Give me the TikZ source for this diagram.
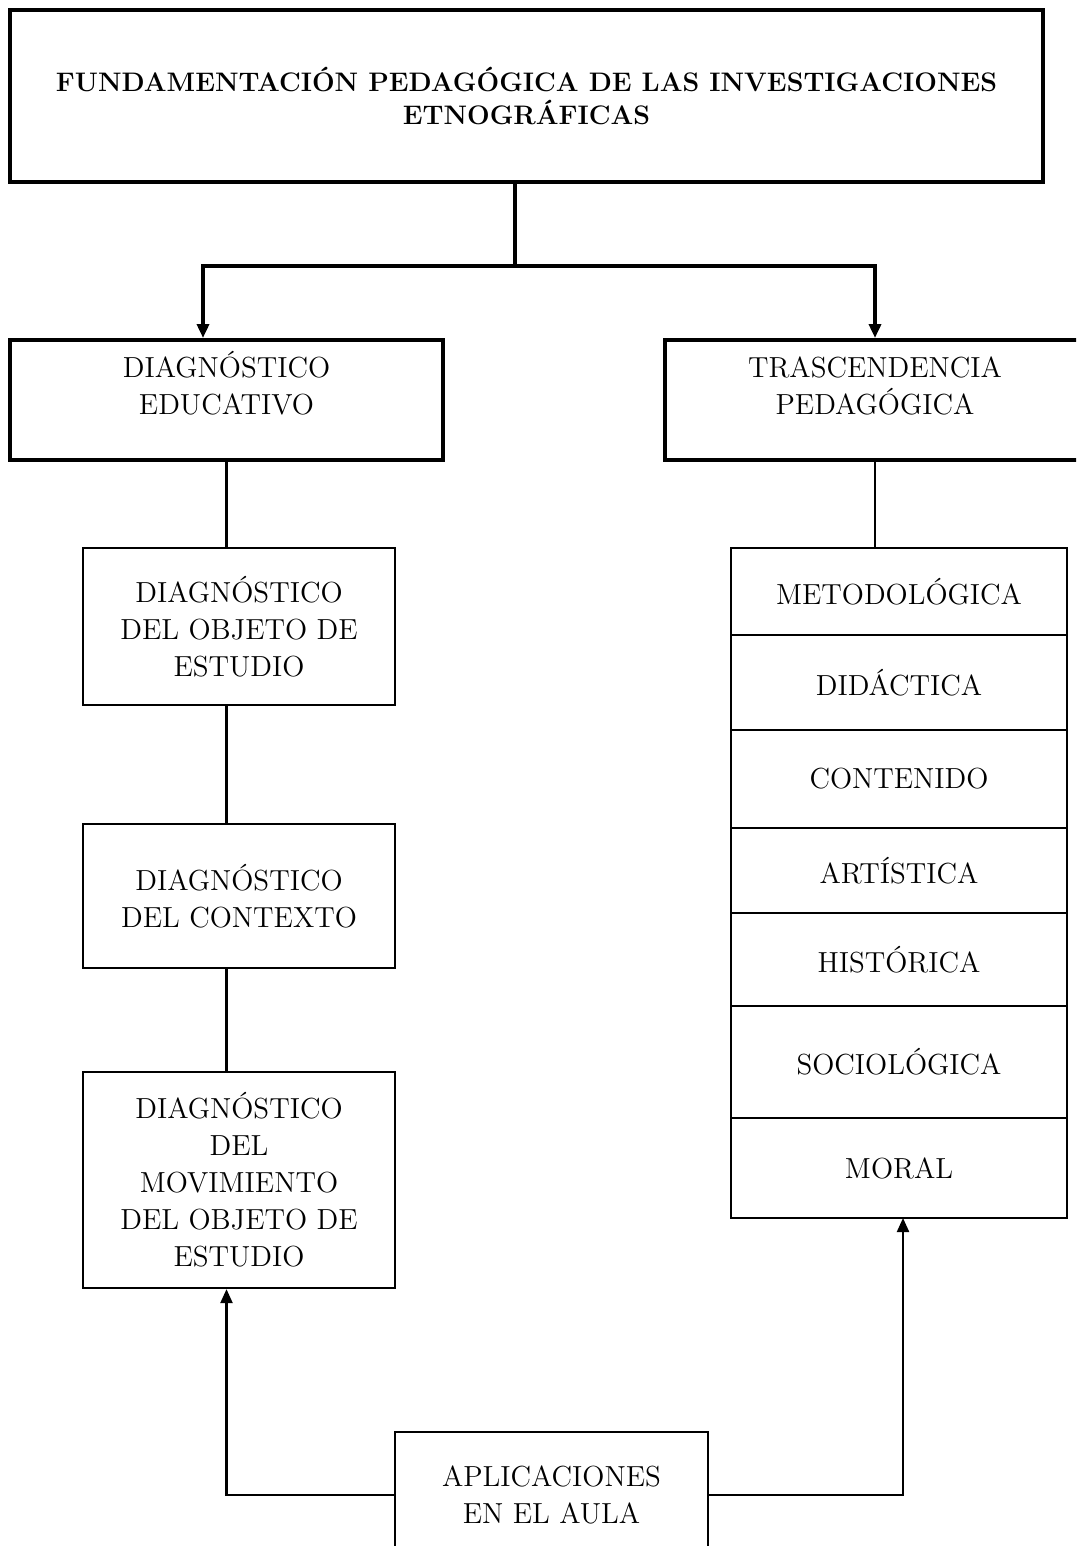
\documentclass[tikz,border=0pt]{standalone}
\usetikzlibrary{positioning,arrows.meta}
\begin{document}
	\begin{tikzpicture}
		[x=0.5pt, y=-0.5pt,
		caja/.style={draw, line width=1.1pt, align=center, inner sep=2pt,
			font=\fontsize{14.5}{18.5}\selectfont},
		cajagruesa/.style={caja, line width=2pt},
		fila/.style={caja, outer sep=0pt, minimum width=168pt},
		flecha/.style={line width=1.1pt, -{Triangle[length=7pt,width=6pt]}},
		flechagruesa/.style={line width=2pt, -{Triangle[length=7pt,width=6pt]}}
		]
		\useasboundingbox (0,0) rectangle (1076,1546);
		\clip (0,0) rectangle (1076,1546);
		
		\node[cajagruesa, minimum width=516.5pt, minimum height=86pt,
			font=\fontsize{13.4}{16.5}\selectfont\bfseries] (fund) at (526.5,96)
			{FUNDAMENTACIÓN PEDAGÓGICA DE LAS INVESTIGACIONES\\ETNOGRÁFICAS};
		
		% lado izquierdo
		\node[cajagruesa, minimum width=216.5pt, minimum height=60pt, text depth=17pt]
			(educ) at (226.5,400) {DIAGNÓSTICO\\EDUCATIVO};
		\node[caja, minimum width=156pt, minimum height=78.5pt] (objeto) at (239,626.5)
			{DIAGNÓSTICO\\DEL OBJETO DE\\ESTUDIO};
		\node[caja, minimum width=156pt, minimum height=72pt] (contexto) at (239,896)
			{DIAGNÓSTICO\\DEL CONTEXTO};
		\node[caja, minimum width=156pt, minimum height=108pt] (movim) at (239,1180)
			{DIAGNÓSTICO\\DEL\\MOVIMIENTO\\DEL OBJETO DE\\ESTUDIO};
		
		% lado derecho
		\node[cajagruesa, minimum width=210pt, minimum height=60pt, text depth=14pt]
			(trasc) at (875,400) {TRASCENDENCIA\\PEDAGÓGICA};
		\node[fila, minimum height=43.5pt, anchor=north] (metod) at (899,548) {METODOLÓGICA};
		\node[fila, minimum height=47.5pt, below=0pt of metod] (didac) {DIDÁCTICA};
		\node[fila, minimum height=49pt, below=0pt of didac] (conte) {CONTENIDO};
		\node[fila, minimum height=42.5pt, below=0pt of conte] (artis) {ARTÍSTICA};
		\node[fila, minimum height=46.5pt, below=0pt of artis] (histo) {HISTÓRICA};
		\node[fila, minimum height=56pt, below=0pt of histo] (socio) {SOCIOLÓGICA};
		\node[fila, minimum height=50pt, below=0pt of socio] (moral) {MORAL};
		
		\node[caja, minimum width=156.5pt, minimum height=63pt] (aula) at (551.5,1495)
			{APLICACIONES\\EN EL AULA};
		
		% conectores
		\coordinate (salida) at (515,182);
		\coordinate (quiebreI) at (203,266);
		\coordinate (quiebreD) at (875,266);
		\draw[line width=2pt] (salida) -- (salida |- quiebreI);
		\draw[flechagruesa] (salida |- quiebreI) -- (quiebreI) -- (educ.north -| quiebreI);
		\draw[flechagruesa] (salida |- quiebreD) -- (quiebreD) -- (trasc.north);
		\draw[line width=1.1pt] (educ.south) -- (objeto.north -| educ.south);
		\draw[line width=1.1pt] (objeto.south -| educ.south) -- (contexto.north -| educ.south);
		\draw[line width=1.1pt] (contexto.south -| educ.south) -- (movim.north -| educ.south);
		\draw[line width=1.1pt] (trasc.south) -- (metod.north -| trasc.south);
		\draw[flecha] (aula.west) -| (movim.south -| educ.south);
		\draw[flecha] (aula.east) -| ([xshift=2pt]moral.south);
	\end{tikzpicture}
\end{document}
